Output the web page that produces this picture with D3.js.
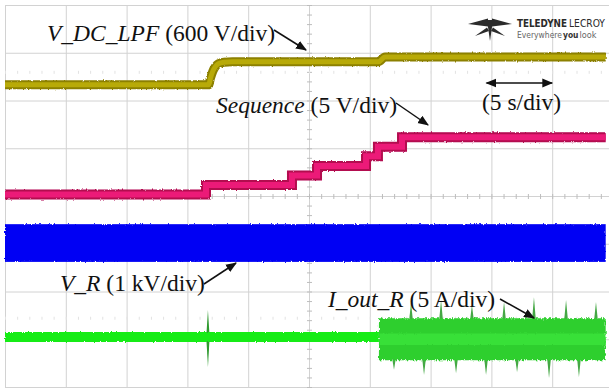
<!DOCTYPE html>
<html>
<head>
<meta charset="utf-8">
<script src="https://cdn.jsdelivr.net/npm/d3@7"></script>
<style>
  html, body { margin: 0; padding: 0; background: #fff; }
  svg { display: block; }
  .lbl { font-family: "Liberation Serif", "Times New Roman", serif; fill: #111; }
  .brand { font-family: "Liberation Sans Narrow", "DejaVu Sans Condensed", sans-serif; }
</style>
</head>
<body>
<svg id="scope" width="609" height="390"></svg>
<script>
// ---- Acquisition: 10 horizontal divisions at 5 s/div, 8 vertical divisions ----
const timeDomain = [0, 50];            // seconds across the screen
const divDomain = [-4, 4];             // vertical divisions
const gridTimes = d3.range(0, 51, 5);  // major time divisions
const gridDivs = d3.range(-4, 5, 1);   // major vertical divisions
const traceEnd = 49.4;                 // last sample on screen (s)

// V_DC_LPF (600 V/div): [time s, position in divisions]
const vdcTimes  = [0, 16.75, 16.9, 17.1, 17.3, 17.55, 18.0, 18.7, 30.7, 31.25, traceEnd];
const vdcLevels = [2.33, 2.33, 2.47, 2.62, 2.71, 2.77, 2.80, 2.81, 2.81, 2.91, 2.91];

// Sequence (5 V/div): step times (s) and levels (V)
const seqTimes  = [0, 16.53, 23.60, 25.66, 29.69, 30.67, 32.65];
const seqVolts  = [0, 1, 2, 3, 4, 5, 6];
const seqScale  = 5;      // V per division
const seqOffset = 0.03;   // divisions

// V_R (1 kV/div): switching waveform envelope, in divisions
const vrTop = -0.59;
const vrBottom = -1.38;

// I_out_R (5 A/div): envelope (divisions) before and after the load step
const ioutStepTime = 30.75;
const ioutIdle  = [-2.85, -3.06];
const ioutLoad  = [-2.56, -3.44];
const ioutCore  = [-2.88, -3.12];
// Transient spike at the DC-link step
const ioutTransientTime = 16.69;
const ioutTransient = [-2.39, -3.58];
// Periodic current spikes under load
const spikeUpTimes  = [33.39, 35.86, 38.40, 41.04, 43.50, 46.14, 48.60];
const spikeUpPeaks  = [-2.24, -2.18, -2.28, -2.22, -2.12, -2.18, -2.22];
const spikeDnTimes  = [31.99, 34.46, 37.09, 39.56, 42.11, 44.74, 47.20];
const spikeDnPeaks  = [-3.64, -3.75, -3.71, -3.75, -3.69, -3.81, -3.79];

// ---- Scales ----
const x = d3.scaleLinear().domain(timeDomain).range([5, 613]);
const y = d3.scaleLinear().domain(divDomain).range([387, 5]);

const svg = d3.select("#scope");

// roughened edges for the noisy traces
const defs = svg.append("defs");
function roughFilter(id, freq, scale, seed) {
  const f = defs.append("filter").attr("id", id)
    .attr("x", "-2%").attr("y", "-40%").attr("width", "104%").attr("height", "180%");
  f.append("feTurbulence").attr("type", "fractalNoise")
    .attr("baseFrequency", freq).attr("numOctaves", 2).attr("seed", seed).attr("result", "n");
  f.append("feDisplacementMap").attr("in", "SourceGraphic").attr("in2", "n")
    .attr("scale", scale).attr("xChannelSelector", "R").attr("yChannelSelector", "G");
}
roughFilter("roughS", "0.9 0.35", 2.5, 3);
roughFilter("roughL", "0.9 0.25", 5, 7);

// ---- Graticule ----
const grid = svg.append("g").attr("stroke", "#d2d2d2").attr("stroke-width", 1);
grid.selectAll("line.v").data(gridTimes).join("line")
  .attr("x1", d => x(d) + 0.5).attr("x2", d => x(d) + 0.5)
  .attr("y1", y(4)).attr("y2", y(-4));
grid.selectAll("line.h").data(gridDivs).join("line")
  .attr("y1", d => y(d) + 0.5).attr("y2", d => y(d) + 0.5)
  .attr("x1", x(0)).attr("x2", x(50));

// minor ticks on the centre lines
const minorT = d3.range(0, 50.01, 1);
const minorD = d3.range(-4, 4.01, 0.2);
const ticks = svg.append("g").attr("stroke", "#bdbdbd").attr("stroke-width", 1);
ticks.selectAll("line.mt").data(minorT).join("line")
  .attr("x1", d => x(d) + 0.5).attr("x2", d => x(d) + 0.5)
  .attr("y1", y(0) - 2).attr("y2", y(0) + 3);
ticks.selectAll("line.md").data(minorD).join("line")
  .attr("y1", d => y(d) + 0.5).attr("y2", d => y(d) + 0.5)
  .attr("x1", x(25) - 2).attr("x2", x(25) + 3);
// faint channel reference rows
const refRows = [2.59, -2.56];
const refG = svg.append("g").attr("stroke", "#e2e2e2").attr("stroke-width", 1);
refRows.forEach(r => {
  refG.append("g").selectAll("line").data(minorT).join("line")
    .attr("x1", d => x(d) + 0.5).attr("x2", d => x(d) + 0.5)
    .attr("y1", y(r) - 1.5).attr("y2", y(r) + 1.5);
});

// ---- V_R envelope (blue) ----
svg.append("rect")
  .attr("x", x(0)).attr("width", x(traceEnd) - x(0))
  .attr("y", y(vrTop)).attr("height", y(vrBottom) - y(vrTop))
  .attr("fill", "#0000f4")
  .attr("filter", "url(#roughS)");

// ---- I_out_R (green) ----
const gG = svg.append("g");
const idleArea = [[0, ...ioutIdle], [ioutStepTime, ...ioutIdle]];
const loadArea = [[ioutStepTime, ...ioutLoad], [traceEnd, ...ioutLoad]];
const area = d3.area().x(d => x(d[0])).y0(d => y(d[2])).y1(d => y(d[1]));
const poly = pts => d3.line()(pts) + "Z";
// spikes
const spikeW = 0.16;
const spike = (t, base, peak) => [[x(t - spikeW), y(base)], [x(t), y(peak)], [x(t + spikeW), y(base)]];
gG.selectAll("path.su").data(d3.zip(spikeUpTimes, spikeUpPeaks)).join("path")
  .attr("d", d => poly(spike(d[0], ioutLoad[0] - 0.05, d[1])))
  .attr("fill", "#45a845");
gG.selectAll("path.sd").data(d3.zip(spikeDnTimes, spikeDnPeaks)).join("path")
  .attr("d", d => poly(spike(d[0], ioutLoad[1] + 0.05, d[1])))
  .attr("fill", "#45a845");
// transient at the DC-link step: thin diamond around the idle band
const tMid = (ioutIdle[0] + ioutIdle[1]) / 2;
gG.append("path")
  .attr("d", poly([[x(ioutTransientTime), y(ioutTransient[0])],
                   [x(ioutTransientTime + 0.14), y(tMid)],
                   [x(ioutTransientTime), y(ioutTransient[1])],
                   [x(ioutTransientTime - 0.14), y(tMid)]]))
  .attr("fill", "#2f9a2f");
gG.append("path").datum(loadArea).attr("d", area)
  .attr("fill", "#2fcf2f").attr("filter", "url(#roughL)");
gG.append("path").datum([[ioutStepTime + 0.05, ...ioutCore], [traceEnd, ...ioutCore]]).attr("d", area)
  .attr("fill", "#3ee83e").attr("opacity", 0.7).attr("filter", "url(#roughS)");
gG.append("path").datum(idleArea).attr("d", area)
  .attr("fill", "#14ec14").attr("filter", "url(#roughS)");

// ---- Sequence (pink) ----
const seqPts = seqTimes.map((t, i) => [t, seqVolts[i]]).concat([[traceEnd, seqVolts[seqVolts.length - 1]]]);
const seqLine = d3.line().curve(d3.curveStepAfter)
  .x(d => x(d[0])).y(d => y(d[1] / seqScale + seqOffset));
svg.append("path").attr("d", seqLine(seqPts))
  .attr("fill", "none").attr("stroke", "#b3084f").attr("stroke-width", 10)
  .attr("filter", "url(#roughS)");
svg.append("path").attr("d", seqLine(seqPts))
  .attr("fill", "none").attr("stroke", "#ec1a78").attr("stroke-width", 6);

// ---- V_DC_LPF (yellow) ----
const vdcPts = vdcTimes.map((t, i) => [t, vdcLevels[i]]);
const vdcLine = d3.line().curve(d3.curveMonotoneX).x(d => x(d[0])).y(d => y(d[1]));
svg.append("path").attr("d", vdcLine(vdcPts))
  .attr("fill", "none").attr("stroke", "#8c8000").attr("stroke-width", 9)
  .attr("filter", "url(#roughS)");
svg.append("path").attr("d", vdcLine(vdcPts))
  .attr("fill", "none").attr("stroke", "#b8aa08").attr("stroke-width", 5);

// ---- Annotations ----
defs.append("marker").attr("id", "head").attr("viewBox", "0 0 10 10")
  .attr("refX", 9).attr("refY", 5).attr("markerWidth", 11).attr("markerHeight", 11)
  .attr("orient", "auto-start-reverse").attr("markerUnits", "userSpaceOnUse")
  .append("path").attr("d", "M0,1 L10,5 L0,9 Z").attr("fill", "#111");

function label(name, unit, px, py) {
  const t = svg.append("text").attr("class", "lbl").attr("x", px).attr("y", py)
    .attr("font-size", 23.5);
  t.append("tspan").attr("font-style", "italic").text(name);
  t.append("tspan").text(unit);
  return t;
}
label("V_DC_LPF", " (600 V/div)", 47, 41);
label("Sequence", " (5 V/div)", 216, 113);
label("V_R", " (1 kV/div)", 60, 291);
label("I_out_R", " (5 A/div)", 328, 307);
svg.append("text").attr("class", "lbl").attr("x", 482).attr("y", 110)
  .attr("font-size", 23.5).text("(5 s/div)");

const arrows = [
  [[274, 30], [306, 50]],
  [[396, 103], [428, 125]],
  [[204, 284], [236, 263]],
  [[500, 299], [534, 318]]
];
svg.selectAll("line.arr").data(arrows).join("line")
  .attr("x1", d => d[0][0]).attr("y1", d => d[0][1])
  .attr("x2", d => d[1][0]).attr("y2", d => d[1][1])
  .attr("stroke", "#111").attr("stroke-width", 1.5)
  .attr("marker-end", "url(#head)");
svg.append("line").attr("x1", x(39.6)).attr("x2", x(45)).attr("y1", 83).attr("y2", 83)
  .attr("stroke", "#111").attr("stroke-width", 1.5)
  .attr("marker-start", "url(#head)").attr("marker-end", "url(#head)");

// ---- Logo ----
const logo = svg.append("g").attr("fill", "#2b2b2b");
const wing = [
  [[468, 24], [488, 18.5], [488, 26.5]],
  [[475, 36], [487, 27.5], [489, 31]],
  [[487, 20], [493, 20], [490, 41]],
  [[512, 24], [492, 18.5], [492, 26.5]],
  [[505, 36], [493, 27.5], [491, 31]]
];
logo.selectAll("path").data(wing).join("path").attr("d", d => poly(d));
// wordmark pieces, each squeezed horizontally to its slot width
const brandParts = [
  {text: "TELEDYNE", x: 517, y: 27, len: 50, size: 10.5, weight: "bold", fill: "#2b2b2b"},
  {text: "LECROY", x: 569, y: 27, len: 36, size: 10.5, weight: "normal", fill: "#2b2b2b"},
  {text: "Everywhere", x: 517, y: 38, len: 45, size: 8.5, weight: "normal", fill: "#666"},
  {text: "you", x: 563, y: 38, len: 15.5, size: 8.5, weight: "bold", fill: "#333"},
  {text: "look", x: 579.5, y: 38, len: 17, size: 8.5, weight: "normal", fill: "#666"}
];
svg.selectAll("text.brand").data(brandParts).join("text").attr("class", "brand")
  .attr("x", 0).attr("y", 0).attr("font-size", d => d.size)
  .attr("font-weight", d => d.weight).attr("fill", d => d.fill)
  .text(d => d.text)
  .attr("transform", function(d) {
    const w = this.getComputedTextLength() || d.len;
    return `translate(${d.x},${d.y}) scale(${d.len / w},1)`;
  });
</script>
</body>
</html>
